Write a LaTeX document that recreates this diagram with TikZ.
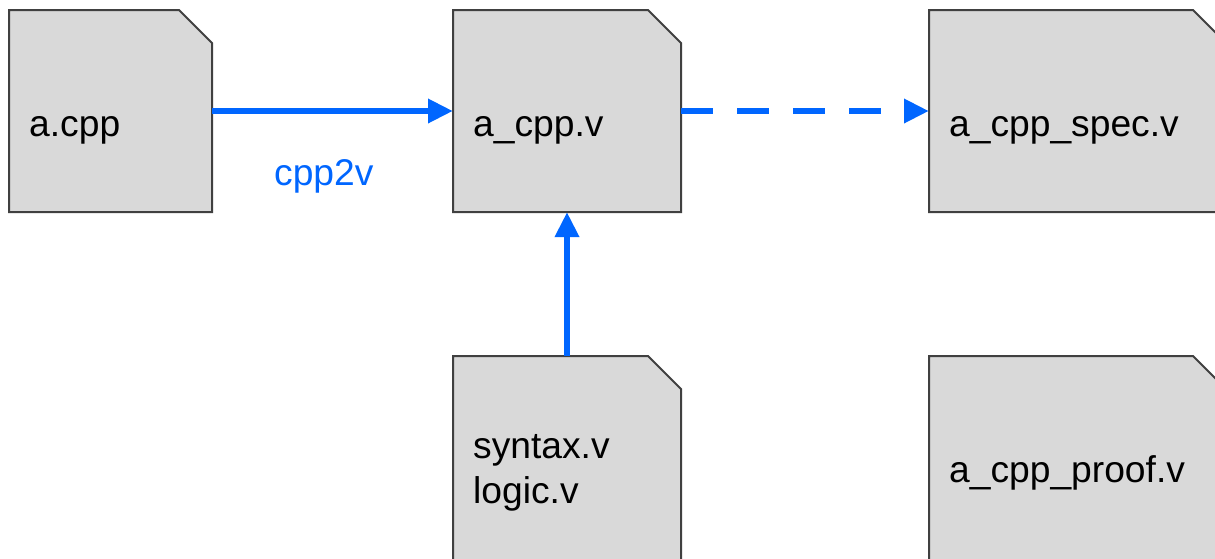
\documentclass[tikz,border=0pt]{standalone}
\usepackage{fontspec}
\setmainfont{Liberation Sans}
\usetikzlibrary{arrows.meta}

\definecolor{docfill}{HTML}{D9D9D9}
\definecolor{docline}{HTML}{404040}
\definecolor{flowblue}{HTML}{0066FF}

\tikzset{
  docbox/.style={draw=none, fill=none, inner sep=0pt, outer sep=0pt,
    anchor=north west},
  docedge/.style={draw=docline, fill=docfill, line width=2pt, line join=miter},
  doctext/.style={anchor=base west, inner sep=0pt, align=left,
    font=\fontsize{37.2}{45}\selectfont, text=black},
  flow/.style={draw=flowblue, line width=6.5pt,
    -{Triangle[length=25pt,width=23pt]}},
  flowdash/.style={flow, dash pattern=on 32pt off 24pt},
  flowlabel/.style={anchor=base west, inner sep=0pt,
    font=\fontsize{37.2}{45}\selectfont, text=flowblue},
}

% document outline with a folded top-right corner, drawn round a named node
\newcommand{\docoutline}[1]{%
  \path[docedge] (#1.south west) -- (#1.north west)
    -- ([xshift=-33pt]#1.north east) -- ([yshift=-33pt]#1.north east)
    -- (#1.south east) -- cycle;}

\begin{document}
\begin{tikzpicture}[x=1pt, y=-1pt]
  \useasboundingbox (0,0) rectangle (1215,558);
  \clip (0,0) rectangle (1215,558);

  % document boxes
  \node[docbox, minimum width=203pt, minimum height=202pt] (src)   at (9,10)    {};
  \node[docbox, minimum width=228pt, minimum height=202pt] (gen)   at (453,10)  {};
  \node[docbox, minimum width=297pt, minimum height=202pt] (spec)  at (929,10)  {};
  \node[docbox, minimum width=228pt, minimum height=240pt] (lib)   at (453,356) {};
  \node[docbox, minimum width=297pt, minimum height=240pt] (proof) at (929,356) {};

  \docoutline{src}
  \docoutline{gen}
  \docoutline{spec}
  \docoutline{lib}
  \docoutline{proof}

  % file names (the base of a two-line node is its last line)
  \node[doctext] (srcname)   at (29,136)  {a.cpp};
  \node[doctext] (genname)   at (473,136) {a\_cpp.v};
  \node[doctext] (specname)  at (949,136) {a\_cpp\_spec.v};
  \node[doctext] (libname)   at (473,503) {syntax.v\\logic.v};
  \node[doctext] (proofname) at (949,482) {a\_cpp\_proof.v};

  % connectors
  \draw[flow] (src.east |- 0,111) -- (gen.west |- 0,111);
  \draw[flowdash] (gen.east |- 0,111) -- (spec.west |- 0,111);
  \draw[flow] (lib.north -| 567,0) -- (gen.south -| 567,0);

  \node[flowlabel] (tool) at (274,185) {cpp2v};
\end{tikzpicture}
\end{document}
